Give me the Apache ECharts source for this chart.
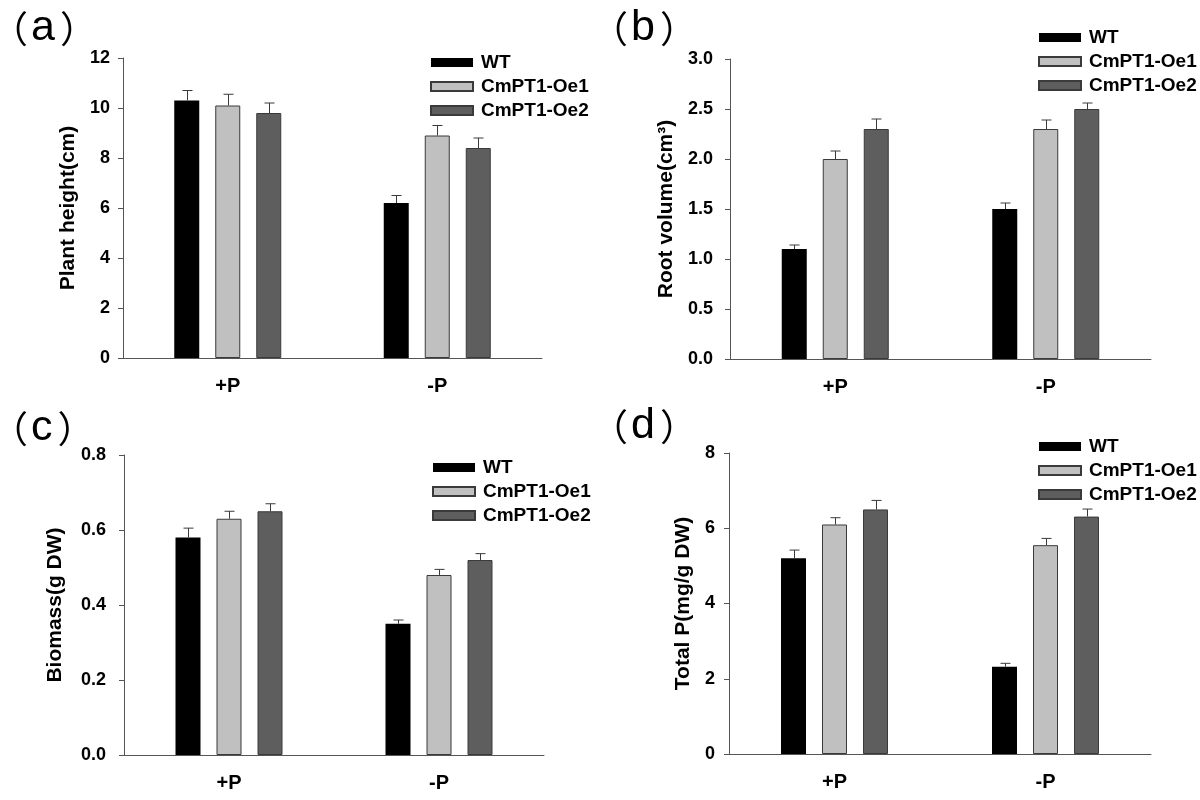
<!DOCTYPE html>
<html><head><meta charset="utf-8">
<script src="https://cdn.jsdelivr.net/npm/echarts@6/dist/echarts.min.js"></script>
<style>html,body{margin:0;padding:0;background:#fff}#c{width:1200px;height:800px}</style>
</head><body><div id="c"></div>
<script>
const categories = ['+P', '-P'];
const seriesNames = ['WT', 'CmPT1-Oe1', 'CmPT1-Oe2'];

// (a) Plant height
const aWT = [10.3, 6.2],  aWTErr = [0.4, 0.3];
const aOe1 = [10.1, 8.9], aOe1Err = [0.45, 0.4];
const aOe2 = [9.8, 8.4],  aOe2Err = [0.4, 0.4];
const aTicks = [0, 2, 4, 6, 8, 10, 12];
// (b) Root volume
const bWT = [1.1, 1.5],   bWTErr = [0.04, 0.06];
const bOe1 = [2.0, 2.3],  bOe1Err = [0.08, 0.09];
const bOe2 = [2.3, 2.5],  bOe2Err = [0.1, 0.06];
const bTicks = [0.0, 0.5, 1.0, 1.5, 2.0, 2.5, 3.0];
// (c) Biomass
const cWT = [0.58, 0.35], cWTErr = [0.025, 0.01];
const cOe1 = [0.63, 0.48], cOe1Err = [0.02, 0.015];
const cOe2 = [0.65, 0.52], cOe2Err = [0.02, 0.017];
const cTicks = [0.0, 0.2, 0.4, 0.6, 0.8];
// (d) Total P
const dWT = [5.2, 2.32],  dWTErr = [0.22, 0.09];
const dOe1 = [6.1, 5.55], dOe1Err = [0.18, 0.18];
const dOe2 = [6.5, 6.31], dOe2Err = [0.24, 0.2];
const dTicks = [0, 2, 4, 6, 8];

const FONT = '"Liberation Sans", Arial, sans-serif';
const colors = ['#000000', '#c0c0c0', '#5e5e5e'];
const borders = ['#000000', '#3a3a3a', '#3a3a3a'];
const AXC = '#555555';

const panels = [
  {letter: 'a', name: 'Plant height(cm)', ticks: aTicks, dec: 0,
   vals: [aWT, aOe1, aOe2], errs: [aWTErr, aOe1Err, aOe2Err],
   grid: {left: 123, top: 58, width: 419, height: 300}, nameGap: 44, labMargin: 13,
   legend: {left: 425, top: 48}, lab: {x: -9, y: 7}},
  {letter: 'b', name: 'Root volume(cm³)', ticks: bTicks, dec: 1,
   vals: [bWT, bOe1, bOe2], errs: [bWTErr, bOe1Err, bOe2Err],
   grid: {left: 730, top: 59, width: 421, height: 300}, nameGap: 53, labMargin: 17,
   legend: {left: 1033, top: 23}, lab: {x: 591, y: 7}},
  {letter: 'c', name: 'Biomass(g DW)', ticks: cTicks, dec: 1,
   vals: [cWT, cOe1, cOe2], errs: [cWTErr, cOe1Err, cOe2Err],
   grid: {left: 124, top: 455, width: 420, height: 300}, nameGap: 58, labMargin: 18,
   legend: {left: 427, top: 453}, lab: {x: -9, y: 407}},
  {letter: 'd', name: 'Total P(mg/g DW)', ticks: dTicks, dec: 0,
   vals: [dWT, dOe1, dOe2], errs: [dWTErr, dOe1Err, dOe2Err],
   grid: {left: 729, top: 453, width: 422, height: 301}, nameGap: 35, labMargin: 14,
   legend: {left: 1033, top: 432}, lab: {x: 591, y: 405}}
];

const BW = 25, BGAP = '64%';
const option = {
  animation: false, backgroundColor: '#ffffff',
  grid: [], xAxis: [], yAxis: [], series: [], legend: [], graphic: []
};

panels.forEach((p, gi) => {
  option.grid.push(Object.assign({containLabel: false}, p.grid));
  option.xAxis.push({
    type: 'category', gridIndex: gi, data: categories,
    axisLine: {lineStyle: {color: AXC, width: 1}},
    axisTick: {alignWithLabel: true, length: 5, lineStyle: {color: AXC}},
    axisLabel: {margin: 18, fontSize: 20, fontWeight: 'bold', color: '#000', fontFamily: FONT},
    splitLine: {show: false}
  });
  const t = p.ticks;
  option.yAxis.push({
    type: 'value', gridIndex: gi, min: t[0], max: t[t.length - 1], interval: t[1] - t[0],
    name: p.name, nameLocation: 'middle', nameGap: p.nameGap,
    nameTextStyle: {fontSize: 21, fontWeight: 'bold', color: '#000', fontFamily: FONT},
    axisLine: {show: true, lineStyle: {color: AXC, width: 1}},
    axisTick: {show: true, length: 5, lineStyle: {color: AXC}},
    axisLabel: {margin: p.labMargin, fontSize: 18, fontWeight: 'bold', color: '#000', fontFamily: FONT,
      formatter: v => Number(v).toFixed(p.dec)},
    splitLine: {show: false}
  });
  p.vals.forEach((vals, si) => {
    option.series.push({
      type: 'bar', name: seriesNames[si], xAxisIndex: gi, yAxisIndex: gi, data: vals,
      barWidth: BW, barGap: BGAP,
      itemStyle: {color: colors[si], borderColor: borders[si], borderWidth: si === 0 ? 0 : 1}
    });
  });
  p.vals.forEach((vals, si) => {
    const errs = p.errs[si];
    option.series.push({
      type: 'custom', name: 'err' + gi + si, xAxisIndex: gi, yAxisIndex: gi, z: 5, silent: true,
      data: vals.map((v, i) => [i, v, errs[i]]),
      renderItem: (params, api) => {
        const cat = api.value(0), v = api.value(1), e = api.value(2);
        const base = api.coord([cat, v]);
        const top = api.coord([cat, v + e]);
        let off = (si - 1) * 41;
        if (api.barLayout) {
          const bl = api.barLayout({barWidth: BW, barGap: BGAP, count: 3});
          if (bl && bl[si] && isFinite(bl[si].offsetCenter)) off = bl[si].offsetCenter;
        }
        const x = Math.round(base[0] + off) + 0.5;
        return {type: 'group', children: [
          {type: 'line', shape: {x1: x, y1: base[1], x2: x, y2: top[1]}, style: {stroke: '#3a3a3a', lineWidth: 1}},
          {type: 'line', shape: {x1: x - 5, y1: top[1], x2: x + 5, y2: top[1]}, style: {stroke: '#3a3a3a', lineWidth: 1}}
        ]};
      }
    });
  });
  option.legend.push({
    orient: 'vertical', left: p.legend.left, top: p.legend.top,
    data: seriesNames.map(n => ({name: n, icon: 'rect'})),
    itemWidth: 42, itemHeight: 9, itemGap: 5,
    textStyle: {fontSize: 19, fontWeight: 'bold', color: '#000', fontFamily: FONT, lineHeight: 19, padding: [0, 0, 0, 3]},
    selectedMode: false
  });
  option.graphic.push({
    type: 'text', left: p.lab.x, top: p.lab.y,
    style: {
      text: '{p|（}{l|' + p.letter + '}{p|）}',
      rich: {
        p: {fontFamily: '"Noto Sans CJK SC"', fontSize: 37, fill: '#000', verticalAlign: 'middle', lineHeight: 42},
        l: {fontFamily: FONT, fontSize: 43, fill: '#000', padding: [0, 5, 0, 3], verticalAlign: 'middle', lineHeight: 42}
      }
    }
  });
});

const chart = echarts.init(document.getElementById('c'), null, {renderer: 'canvas'});
chart.setOption(option);
</script>
</body></html>
